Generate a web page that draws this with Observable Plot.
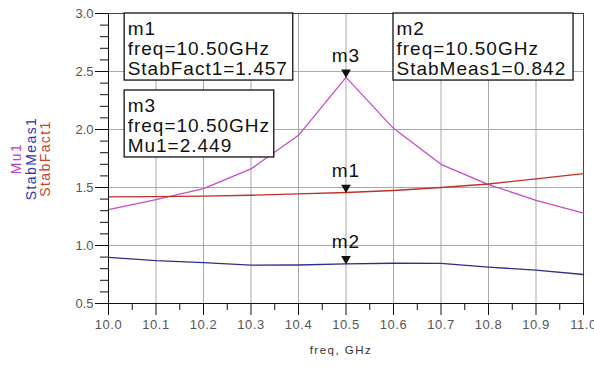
<!DOCTYPE html>
<html><head><meta charset="utf-8">
<script src="https://cdn.jsdelivr.net/npm/d3@7"></script>
<script src="https://cdn.jsdelivr.net/npm/@observablehq/plot@0.6"></script>
<style>
body{margin:0;background:#fff}
#chart svg{display:block}
#chart g[font-size="19"]{letter-spacing:1px}
#chart g[font-size="14"]{letter-spacing:1.4px}
#chart g[font-size="11.5"]{letter-spacing:1.5px}
#chart g[aria-label="x-axis tick label"]{letter-spacing:0.6px}
</style>
</head><body><div id="chart"></div>
<script>
// ---- data ----
const freq      = [10.0, 10.1, 10.2, 10.3, 10.4, 10.5, 10.6, 10.7, 10.8, 10.9, 11.0];
const stabFact1 = [1.420, 1.422, 1.425, 1.433, 1.445, 1.457, 1.474, 1.500, 1.530, 1.575, 1.620];
const stabMeas1 = [0.897, 0.870, 0.853, 0.830, 0.832, 0.842, 0.847, 0.846, 0.813, 0.788, 0.750];
const mu1       = [1.310, 1.395, 1.490, 1.660, 1.950, 2.449, 2.010, 1.700, 1.525, 1.390, 1.280];

const xTickLabels = ["10.0","10.1","10.2","10.3","10.4","10.5","10.6","10.7","10.8","10.9","11.0"];
const yTickLabels = ["0.5","1.0","1.5","2.0","2.5","3.0"];
const seriesNames = ["Mu1","StabMeas1","StabFact1"];

const markerNames  = ["m1","m2","m3"];
const markerSeries = ["StabFact1","StabMeas1","Mu1"];
const markerFreq   = [10.5, 10.5, 10.5];
const markerValue  = [1.457, 0.842, 2.449];

// ---- styling / layout (not data) ----
const colors = {Mu1: "#c64cc6", StabMeas1: "#2e2e8c", StabFact1: "#c0302a"};
const labelColors = {Mu1: "#c040c0", StabMeas1: "#3535a5", StabFact1: "#d0402a"};
// marker readout boxes in data units [x1, x2, y1, y2]
const boxPos = {m1: [10.034, 10.389, 2.422, 3.0], m2: [10.600, 10.979, 2.422, 3.0], m3: [10.034, 10.349, 1.759, 2.336]};

const xTicks = xTickLabels.map(Number);
const yTicks = yTickLabels.map(Number);
const xMinor = d3.range(0, 10).map(i => 10.05 + i * 0.1);
const yMinor = d3.range(5, 31).map(i => i / 10).filter(v => !yTicks.some(t => Math.abs(t - v) < 1e-9));

const seriesValues = {Mu1: mu1, StabMeas1: stabMeas1, StabFact1: stabFact1};
const lineData = seriesNames.flatMap(s => freq.map((f, i) => ({series: s, freq: f, value: seriesValues[s][i]})));

const markers = markerNames.map((m, i) => ({
  name: m, series: markerSeries[i], freq: markerFreq[i], value: markerValue[i],
  label: `${m}\nfreq=${markerFreq[i].toFixed(2)}GHz\n${markerSeries[i]}=${markerValue[i].toFixed(3)}`,
  x1: boxPos[m][0], x2: boxPos[m][1], y1: boxPos[m][2], y2: boxPos[m][3]
}));

const fmt = d => d.toFixed(1);
const yLabelDx = [-92, -77, -63];

const chart = Plot.plot({
  width: 594,
  height: 367,
  marginLeft: 108,
  marginRight: 11,
  marginTop: 13,
  marginBottom: 64,
  style: {fontFamily: "'Liberation Sans', Arial, sans-serif", fontSize: "13px", color: "#333", background: "#fff"},
  x: {domain: [10, 11], label: null},
  y: {domain: [0.5, 3.0], label: null},
  marks: [
    Plot.gridX(xTicks.slice(1, -1), {stroke: "#a9a9a9", strokeOpacity: 1}),
    Plot.gridY(yTicks.slice(1, -1), {stroke: "#a9a9a9", strokeOpacity: 1}),
    Plot.ruleX([11], {stroke: "#444"}),
    Plot.ruleY([3.0], {stroke: "#444"}),
    Plot.line(lineData, {x: "freq", y: "value", z: "series", stroke: d => colors[d.series], strokeWidth: 1.3}),
    Plot.ruleX([10], {stroke: "#111"}),
    Plot.ruleY([0.5], {stroke: "#111"}),
    Plot.axisX(xTicks, {tickSize: 12, tickPadding: 4, tickFormat: fmt, stroke: "#111", fill: "#555", label: null, fontSize: 13}),
    Plot.axisX(xMinor, {tickSize: 7, tickFormat: () => "", stroke: "#111", label: null}),
    Plot.axisY(yTicks, {tickSize: 13, tickPadding: 2, tickFormat: fmt, stroke: "#111", fill: "#555", label: null, fontSize: 13}),
    Plot.axisY(yMinor, {tickSize: 8, tickFormat: () => "", stroke: "#111", label: null}),
    Plot.rect(markers, {x1: "x1", x2: "x2", y1: "y1", y2: "y2", fill: "white", stroke: "#111", strokeWidth: 1.3}),
    Plot.text(markers, {x: "x1", y: "y2", text: "label", textAnchor: "start", lineAnchor: "top", dx: 3, dy: 7, fontSize: 19, lineHeight: 1.05, fill: "#111"}),
    Plot.dot(markers, {x: "freq", y: "value", symbol: "triangle", rotate: 180, r: 3.6, fill: "#111", stroke: "none", dy: -5}),
    Plot.text(markers, {x: "freq", y: "value", text: "name", dy: -22, fontSize: 19, fill: "#111"}),
    ...seriesNames.map((s, i) => Plot.text([s], {text: d => d, frameAnchor: "left", textAnchor: "middle", rotate: -90, dx: yLabelDx[i], fill: labelColors[s], fontSize: 14})),
    Plot.text(["freq, GHz"], {text: d => d, frameAnchor: "bottom", textAnchor: "middle", dx: -5, dy: 50, fill: "#333", fontSize: 11.5})
  ]
});
document.getElementById("chart").appendChild(chart);
</script>
</body></html>
